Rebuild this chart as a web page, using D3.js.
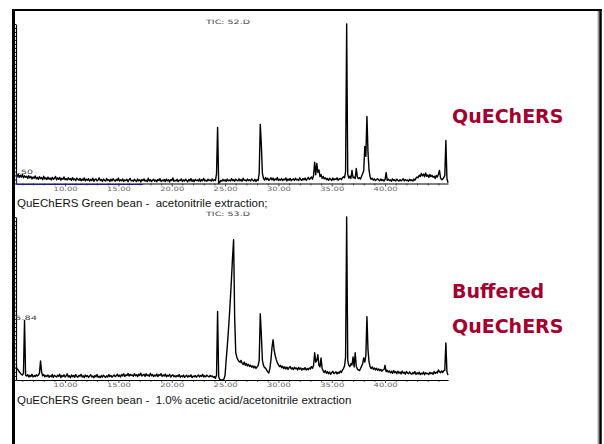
<!DOCTYPE html>
<html><head><meta charset="utf-8">
<script src="https://cdn.jsdelivr.net/npm/d3@7"></script>
<style>body{margin:0;background:#fff}svg{display:block}</style>
</head><body>
<svg id="c" width="604" height="444"></svg>
<script>
// ---- data ----
const sampleStart = 5.4;      // min, first scan
const sampleStep = 0.1;       // min between scans
const xDomain = [5.4, 45.9];
const majorTicks = [10, 15, 20, 25, 30, 35, 40];
const minorTicks = [6,7,8,9,11,12,13,14,16,17,18,19,21,22,23,24,26,27,28,29,31,32,33,34,36,37,38,39,41,42,43,44,45];
const topFile = "TIC: 52.D";
const bottomFile = "TIC: 53.D";
const topMarker = ".50";
const bottomMarker = "5.84";
const topCaption = "QuEChERS Green bean -  acetonitrile extraction;";
const bottomCaption = "QuEChERS Green bean -  1.0% acetic acid/acetonitrile extraction";
const topLabel = ["QuEChERS"];
const bottomLabel = ["Buffered", "QuEChERS"];

// relative abundance (%) per scan, QuEChERS
const topSignal = [
5.5,4.2,6.0,3.8,5.2,4.0,5.6,3.6,4.8,3.9,
4.6,3.2,4.9,3.5,4.4,2.8,4.1,3.3,4.7,2.9,
3.9,2.6,4.3,3.0,3.7,2.4,4.5,2.8,3.6,2.5,
4.0,2.7,3.4,2.2,3.9,2.6,3.2,4.4,2.3,3.5,
2.6,3.8,2.1,3.3,2.7,4.1,2.4,3.0,2.2,3.6,
2.5,3.1,1.9,3.7,2.3,2.9,1.8,3.4,2.6,2.0,
3.2,1.7,2.8,2.1,3.5,1.6,2.7,2.0,3.0,1.5,
2.6,1.9,3.3,1.4,2.4,2.9,1.6,2.2,3.6,1.8,
2.5,1.3,2.8,2.0,1.5,3.1,1.9,2.4,1.2,2.7,
1.6,3.0,2.1,1.4,2.6,1.8,3.4,1.5,2.3,1.7,
2.9,1.3,2.2,1.8,2.7,1.1,2.4,3.2,1.6,2.0,
1.4,2.6,1.9,1.2,2.8,1.7,2.3,1.0,2.5,1.8,
2.9,1.5,2.1,1.3,3.3,1.6,2.4,1.2,2.0,2.7,
1.4,2.2,1.1,2.6,1.8,3.0,1.3,2.1,1.6,2.5,
1.2,2.8,1.7,2.3,1.0,2.4,1.9,3.5,1.4,2.0,
1.6,2.6,1.2,2.1,1.8,2.9,1.3,2.2,1.5,2.7,
1.9,1.1,2.5,1.6,3.1,1.4,2.3,1.2,2.6,1.8,
2.2,1.5,2.9,1.3,2.4,1.7,3.2,1.6,2.1,1.4,
2.7,1.8,2.3,1.5,2.9,1.6,2.4,1.9,6.0,35.2,
0.2,0.8,1.9,1.4,2.6,1.6,2.3,1.3,2.8,1.7,
2.2,1.5,3.0,1.8,2.4,1.4,2.7,2.0,1.6,2.9,
1.7,2.5,1.4,3.3,1.9,2.2,1.5,2.8,1.8,2.4,
1.6,2.9,2.0,1.5,2.6,1.3,2.4,1.9,6.3,37.1,
24.5,6.3,3.2,2.1,3.8,2.4,3.3,1.9,2.7,3.6,
2.2,3.4,1.8,2.9,2.3,3.7,1.9,2.6,2.1,3.1,
1.8,2.7,2.3,3.5,1.6,2.8,2.0,3.2,1.7,2.5,
2.9,1.9,3.3,2.2,2.7,1.8,3.6,2.4,2.0,3.1,
2.3,3.4,2.0,2.8,3.9,2.5,3.2,4.1,2.7,5.2,
13.4,5.5,12.6,7.0,8.5,4.3,5.6,3.2,4.4,2.9,
3.6,2.4,3.1,2.0,3.3,2.6,1.9,3.4,2.2,3.0,
2.5,3.6,2.1,2.8,3.2,2.4,3.5,4.2,3.6,7.5,
100,6.0,3.4,4.6,3.2,8.2,3.6,4.0,3.1,9.4,
4.2,3.0,3.6,2.8,4.5,6.2,8.0,23.3,17.0,42.1,
19.5,8.2,4.0,2.6,3.3,2.1,2.9,1.8,2.5,3.0,
2.2,1.7,2.8,1.9,2.4,1.5,2.6,6.9,2.0,2.7,
1.8,2.3,1.4,2.9,1.9,2.2,1.6,2.7,2.0,1.5,
2.4,1.7,2.1,3.0,1.6,2.5,1.8,2.2,1.4,2.6,
1.9,2.3,1.5,2.8,2.0,3.4,4.1,3.6,5.2,4.4,
6.3,4.8,5.9,4.2,6.6,4.5,5.4,3.8,5.7,4.3,
5.1,3.9,4.6,3.2,5.0,4.0,5.8,8.2,3.5,2.4,
2.8,3.6,5.0,27.0,3.0,0.5
];

// relative abundance (%) per scan, Buffered QuEChERS
const bottomSignal = [
8.2,7.0,6.2,5.0,4.3,3.5,3.0,4.0,36.6,3.0,
2.4,3.3,1.8,2.9,2.2,3.5,1.9,2.7,2.1,3.2,
2.5,3.0,4.2,11.7,5.0,2.6,3.4,1.9,2.8,2.2,
3.1,1.7,2.6,2.0,3.4,1.6,2.9,2.3,1.8,3.0,
2.2,3.6,1.5,2.7,2.1,3.2,1.8,2.5,3.8,1.9,
2.6,1.4,3.1,2.0,2.8,1.6,3.3,2.2,1.7,2.9,
2.3,3.5,1.8,2.6,1.5,3.0,2.1,2.7,1.6,2.4,
3.2,1.9,2.5,1.4,2.8,2.0,3.4,1.7,2.3,1.5,
2.7,1.8,3.0,2.2,1.6,2.6,1.9,3.3,2.1,2.8,
1.7,2.4,3.1,2.0,2.6,3.6,2.2,2.9,1.9,3.4,
2.5,3.8,2.1,3.2,2.7,4.0,2.4,3.5,2.8,3.1,
2.3,3.9,2.6,3.3,2.0,3.6,2.8,4.2,2.4,3.0,
3.5,2.2,3.8,2.7,3.1,2.3,4.1,2.6,3.4,2.1,
3.0,2.4,3.7,2.1,3.3,2.8,3.9,2.2,3.1,2.5,
3.6,2.0,2.9,2.4,3.4,1.8,2.7,3.2,2.1,2.6,
1.9,2.8,2.2,3.3,1.7,2.5,2.0,3.0,1.6,2.4,
2.9,1.8,2.6,2.1,3.2,1.5,2.4,2.0,2.8,1.7,
2.5,3.1,1.9,2.7,2.2,3.4,1.8,2.6,2.0,3.0,
2.3,1.9,2.8,2.1,2.5,1.6,2.2,1.0,3.0,42.0,
2.0,0.4,0.0,0.0,0.2,0.6,3.0,12.0,20.0,29.0,
39.0,50.0,62.0,75.0,86.0,38.0,17.0,14.0,12.5,11.5,
10.8,12.0,10.2,9.5,11.0,9.0,10.1,8.6,9.6,8.3,
9.0,7.8,8.7,7.4,8.4,7.1,8.0,8.8,12.0,40.7,
27.8,12.0,9.0,7.5,7.4,6.0,5.0,4.3,7.0,12.3,
20.0,24.7,18.5,15.0,12.5,10.5,9.4,8.2,9.0,7.6,
8.4,7.0,8.1,6.8,7.9,6.5,7.6,8.3,6.7,7.5,
6.4,7.8,6.9,7.3,6.2,7.7,6.6,7.4,6.0,7.1,
6.5,7.6,6.1,7.0,6.3,7.4,6.8,8.2,7.2,9.0,
16.7,11.0,12.0,15.5,9.0,8.0,13.6,7.0,5.5,4.6,
5.8,4.1,5.2,3.8,4.9,3.5,4.6,5.3,3.9,4.4,
5.0,3.7,4.8,4.2,5.5,4.6,6.0,7.0,8.5,14.0,
100,12.0,9.0,8.2,10.0,9.2,14.2,8.0,16.7,8.5,
6.8,6.2,5.8,7.0,8.5,10.0,13.6,11.0,15.0,38.9,
18.5,11.0,8.2,7.0,8.0,6.6,7.4,6.2,7.2,6.0,
6.8,5.7,6.5,5.4,6.2,6.4,9.0,5.2,6.0,4.8,
5.6,4.4,5.3,4.0,5.8,4.5,5.1,3.9,5.4,4.2,
4.9,3.7,5.5,4.1,4.7,3.6,5.2,4.3,3.8,5.0,
4.0,3.5,4.6,3.9,5.1,3.4,4.4,3.7,4.8,3.3,
4.2,3.6,4.9,3.2,4.5,3.8,4.1,3.4,4.7,3.9,
4.4,3.5,5.2,4.0,4.8,4.3,6.2,5.0,4.5,5.6,
4.6,5.8,6.0,22.8,5.0,3.0
];

// ---- drawing ----
const svg = d3.select("#c");
svg.append("rect").attr("width", 604).attr("height", 444).attr("fill", "#fff");

const x = d3.scaleLinear().domain(xDomain).range([16, 448]);
const tinyFont = "'DejaVu Sans', sans-serif";
const capFont = "'Liberation Sans', Arial, sans-serif";
const red = "#a3002f";

function panel(signal, yBase, yTop, opt) {
  const y = d3.scaleLinear().domain([0, 100]).range([yBase, yTop]);
  const g = svg.append("g");

  // y axis (dense ticks, no labels)
  const ya = g.append("g").attr("transform", "translate(16,0)")
    .call(d3.axisLeft(y).tickValues(d3.range(0, 100.1, 2.5)).tickSize(2).tickSizeOuter(0).tickFormat(""));
  ya.select(".domain").attr("stroke", "#000").attr("stroke-width", 1.2);
  ya.selectAll(".tick line").attr("stroke", "#222");

  // minor x ticks
  const xm = g.append("g").attr("transform", `translate(0,${yBase})`)
    .call(d3.axisBottom(x).tickValues(minorTicks).tickSize(2).tickSizeOuter(0).tickFormat(""));
  xm.select(".domain").remove();
  xm.selectAll(".tick line").attr("stroke", "#666");

  // major x axis
  const xa = g.append("g").attr("transform", `translate(0,${yBase})`)
    .call(d3.axisBottom(x).tickValues(majorTicks).tickSize(3).tickSizeOuter(0).tickPadding(0).tickFormat(d3.format(".2f")));
  xa.select(".domain").attr("stroke", "#000");
  xa.selectAll(".tick line").attr("stroke", "#444");
  xa.selectAll(".tick text")
    .attr("font-family", tinyFont).attr("font-size", 6).attr("fill", "#666")
    .attr("textLength", 24).attr("lengthAdjust", "spacingAndGlyphs");

  // trace
  const line = d3.line()
    .x((d, i) => x(sampleStart + i * sampleStep))
    .y(d => y(d));
  g.append("path").datum(signal)
    .attr("fill", "none").attr("stroke", "#000").attr("stroke-width", 1.4)
    .attr("stroke-linejoin", "round")
    .attr("d", line);

  // file title
  g.append("text").attr("x", 206).attr("y", opt.titleY)
    .attr("font-family", tinyFont).attr("font-size", 6).attr("fill", "#444")
    .attr("textLength", 44).attr("lengthAdjust", "spacingAndGlyphs")
    .text(opt.title);

  // retention marker
  g.append("text").attr("x", opt.markX).attr("y", opt.markY)
    .attr("font-family", tinyFont).attr("font-size", 6).attr("fill", "#444")
    .attr("textLength", opt.markW).attr("lengthAdjust", "spacingAndGlyphs")
    .text(opt.marker);

  // caption
  g.append("text").attr("x", 17).attr("y", opt.capY)
    .attr("font-family", capFont).attr("font-size", 11.5).attr("fill", "#111")
    .style("white-space", "pre")
    .text(opt.caption);

  // red label
  opt.label.forEach((t, i) => {
    g.append("text").attr("x", 452).attr("y", opt.labelY + i * 35)
      .attr("font-family", "'DejaVu Sans', Verdana, sans-serif").attr("font-weight", "bold")
      .attr("font-size", 19).attr("fill", red)
      .text(t);
  });
  return y;
}

const yT = panel(topSignal, 183.5, 24, {
  title: topFile, titleY: 23.5, marker: topMarker, markX: 18, markY: 174, markW: 15,
  caption: topCaption, capY: 206.5, label: topLabel, labelY: 123
});
// blue selection marker on top chart
svg.append("path")
  .attr("d", `M${x(xDomain[0]) + 0.5},${yT(6)}V${yT(0) + 1}H143`)
  .attr("fill", "none").attr("stroke", "#1c1c8a").attr("stroke-width", 1);

panel(bottomSignal, 380, 217, {
  title: bottomFile, titleY: 216, marker: bottomMarker, markX: 15, markY: 320, markW: 22,
  caption: bottomCaption, capY: 404, label: bottomLabel, labelY: 298
});

// slide frame
svg.append("line").attr("x1", 13.5).attr("x2", 13.5).attr("y1", 9).attr("y2", 444)
  .attr("stroke", "#000").attr("stroke-width", 3);
svg.append("line").attr("x1", 12).attr("x2", 602).attr("y1", 10).attr("y2", 10)
  .attr("stroke", "#000").attr("stroke-width", 2);
svg.append("line").attr("x1", 598.3).attr("x2", 598.3).attr("y1", 11).attr("y2", 444)
  .attr("stroke", "#999").attr("stroke-width", 1.4);
svg.append("line").attr("x1", 600.5).attr("x2", 600.5).attr("y1", 9).attr("y2", 444)
  .attr("stroke", "#000").attr("stroke-width", 2.5);
</script>
</body></html>
